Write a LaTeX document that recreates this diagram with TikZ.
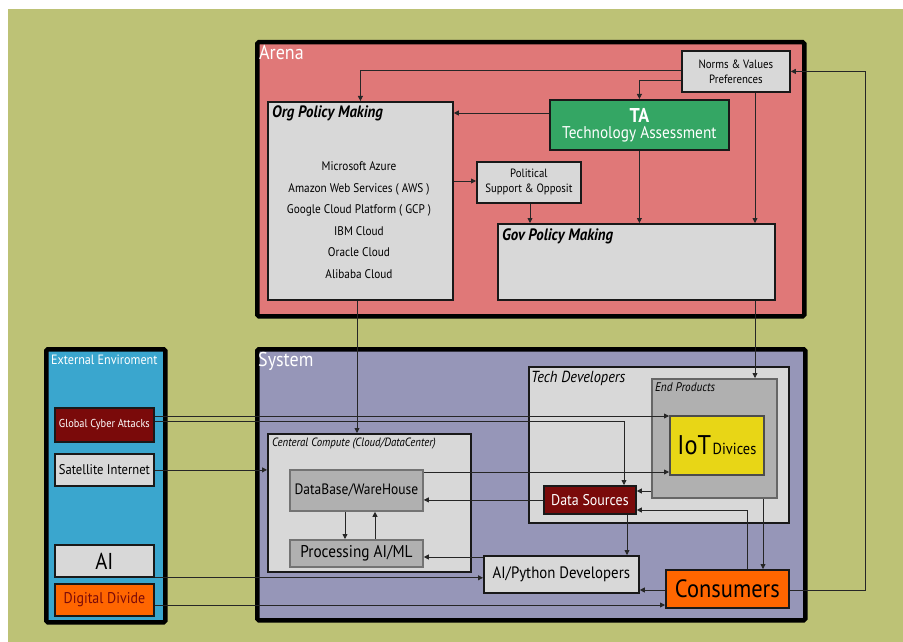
\documentclass[tikz,border=0pt]{standalone}
\usepackage{fontspec}
\setmainfont{PT Sans}[FakeStretch=0.9]
\usetikzlibrary{arrows.meta,calc,shadows}

\definecolor{bgGreen}{RGB}{189,194,118}
\definecolor{arenaPink}{RGB}{224,120,120}
\definecolor{systemBlue}{RGB}{150,150,184}
\definecolor{extBlue}{RGB}{58,166,206}
\definecolor{paleGrey}{RGB}{216,216,216}
\definecolor{midGrey}{RGB}{176,176,176}
\definecolor{taGreen}{RGB}{52,166,100}
\definecolor{darkRed}{RGB}{122,10,10}
\definecolor{hotOrange}{RGB}{255,102,0}
\definecolor{iotYellow}{RGB}{232,214,22}

\newcommand{\fs}[1]{\fontsize{#1}{#1}\selectfont}

\begin{document}
\begin{tikzpicture}[x=1pt,y=-1pt,
  arr/.style={draw=black!85, line width=0.8pt, -{Triangle[length=5pt,width=5pt]}},
  soft/.style={drop shadow={shadow xshift=1.2pt, shadow yshift=-1.2pt, opacity=0.35, fill=black}},
  area/.style={draw=black, line width=4.5pt, rounded corners=1.5pt, anchor=north west, inner sep=0pt, soft},
  box/.style={draw=black!90, line width=1.8pt, anchor=north west, inner sep=0pt, align=center, soft},
  tag/.style={anchor=north west, inner sep=0pt},
]
\useasboundingbox (0,0) rectangle (903,642);
\fill[white] (0,0) rectangle (903,642);
\fill[bgGreen] (8,9) rectangle (903,642);

% ---------- containers ----------
\node[area, fill=arenaPink, minimum width=547, minimum height=274] (arena) at (255,40) {};
\node[area, fill=systemBlue, minimum width=548, minimum height=271] (system) at (255,347) {};
\node[area, fill=extBlue, minimum width=119, minimum height=273] (ext) at (44,347) {};

\node[tag, text=white, font=\fs{20}] (arenaL) at (259,45) {Arena};
\node[tag, text=white, font=\fs{20}] (systemL) at (258,352) {System};
\node[tag, text=white, font=\fs{13.5}] (extL) at (51,355) {External Enviroment};

% ---------- arena ----------
\node[box, fill=paleGrey, minimum width=108, minimum height=41, font=\fs{12}] (norms) at (681,50) {Norms \& Values\\[3pt]Preferences};
\node[box, fill=paleGrey, minimum width=185, minimum height=198] (org) at (267,101) {};
\node[tag, font=\bfseries\itshape\fs{16.5}] (orgL) at (272,106) {Org Policy Making};
\node[align=center, font=\fontsize{12.5}{21.5}\selectfont, inner sep=0pt] (clouds) at (359,220)
  {Microsoft Azure\\Amazon Web Services ( AWS )\\Google Cloud Platform ( GCP )\\IBM Cloud\\Oracle Cloud\\Alibaba Cloud};
\node[box, fill=taGreen, text=white, minimum width=179, minimum height=50] (ta) at (549,99)
  {{\bfseries\fontsize{20}{20}\selectfont TA}\\[3pt]{\fontsize{17}{17}\selectfont Technology Assessment}};
\node[box, fill=paleGrey, minimum width=104, minimum height=41, font=\fs{12}] (pol) at (476,161) {Political\\[3pt]Support \& Opposit};
\node[box, fill=paleGrey, minimum width=277, minimum height=76] (gov) at (497,223) {};
\node[tag, font=\bfseries\itshape\fs{16.5}] (govL) at (502,229) {Gov Policy Making};

% ---------- external environment ----------
\node[box, fill=darkRed, text=white, minimum width=99, minimum height=34, font=\fs{11.5}] (gca) at (54,407) {Global Cyber Attacks};
\node[box, fill=paleGrey, minimum width=99, minimum height=32, font=\fs{14}] (sat) at (54,453) {Satellite Internet};
\node[box, fill=paleGrey, minimum width=99, minimum height=32, font=\fs{23}] (ai) at (54,544) {AI};
\node[box, fill=hotOrange, text=darkRed, minimum width=99, minimum height=32, font=\fs{15.5}] (dd) at (54,583) {Digital Divide};

% ---------- system ----------
\node[box, fill=paleGrey, minimum width=203, minimum height=138] (cc) at (267,433) {};
\node[tag, font=\itshape\fs{12}] (ccL) at (272,438) {Centeral Compute (Cloud/DataCenter)};
\node[box, draw=black!55, fill=midGrey, minimum width=133, minimum height=41, font=\fs{15}] (db) at (289,469) {DataBase/WareHouse};
\node[box, draw=black!55, fill=midGrey, minimum width=133, minimum height=27, font=\fs{17}] (proc) at (289,539) {Processing AI/ML};

\node[box, fill=paleGrey, minimum width=260, minimum height=156] (tech) at (528,366) {};
\node[tag, font=\itshape\fs{16}] (techL) at (531,371) {Tech Developers};
\node[box, draw=black!60, fill=midGrey, minimum width=125, minimum height=119] (ep) at (651,378) {};
\node[tag, font=\itshape\fs{12.5}] (epL) at (655,382) {End Products};
\node[box, draw=black!70, fill=iotYellow, minimum width=94, minimum height=59] (iot) at (669,415)
  {{\fs{27}IoT}\,{\fs{16}Divices}};
\node[box, fill=darkRed, text=white, minimum width=92, minimum height=28, font=\fs{15.5}] (ds) at (543,485) {Data Sources};
\node[box, fill=paleGrey, minimum width=155, minimum height=37, font=\fs{16.5}] (aipy) at (483,555) {AI/Python Developers};
\node[box, fill=hotOrange, minimum width=123, minimum height=38, font=\fs{25}] (cons) at (665,569) {Consumers};

% ---------- connectors: arena ----------
\draw[arr] (norms.west |- 0,70) -| (org.north);
\draw[arr] (norms.west |- 0,80) -| (ta.north);
\draw[arr] (norms.south -| 755,0) -- (gov.north -| 755,0);
\draw[arr] (ta.west |- 0,113) -- (org.east |- 0,113);
\draw[arr] (ta.south) -- (gov.north -| ta.south);
\draw[arr] (org.east |- 0,181) -- (pol.west |- 0,181);
\draw[arr] (pol.south -| 530,0) -- (gov.north -| 530,0);

% ---------- connectors: between arena and system ----------
\draw[arr] (org.south -| 357,0) -- (cc.north -| 357,0);
\draw[arr] (gov.south -| 755,0) -- (ep.north -| 755,0);
\coordinate (rim) at (865,0);
\draw[arr] (cons.east |- 0,590) -| (rim |- norms.east) -- (norms.east);

% ---------- connectors: external environment ----------
\draw[arr] (gca.east |- 0,416) -- (iot.west |- 0,416);
\draw[arr] (gca.east |- 0,421) -| (ds.north -| 624,0);
\draw[arr] (sat.east) -- (sat.east -| cc.west);
\draw[arr] (ai.south east) -- (aipy.west |- ai.south east);
\draw[arr] (dd.east |- 0,605) -- (cons.west |- 0,605);

% ---------- connectors: system ----------
\draw[arr] (db.east |- 0,472) -- (iot.west |- 0,472);
\draw[arr] (ds.west) -- (ds.west -| db.east);
\draw[arr] (db.south -| 345,0) -- (proc.north -| 345,0);
\draw[arr] (proc.north -| 375,0) -- (db.south -| 375,0);
\draw[arr] (aipy.west |- 0,557) -- (proc.east |- 0,557);
\draw[arr] (ep.west |- 0,491) -- (ds.east |- 0,491);
\draw[arr] (cons.north -| 747,0) |- (ds.east |- 0,510);
\draw[arr] (ep.south -| 763,0) -- (cons.north -| 763,0);
\draw[arr] (ds.south -| 627,0) -- (aipy.north -| 627,0);
\draw[arr] (cons.west |- 0,590) -- (aipy.east |- 0,590);
\end{tikzpicture}
\end{document}
